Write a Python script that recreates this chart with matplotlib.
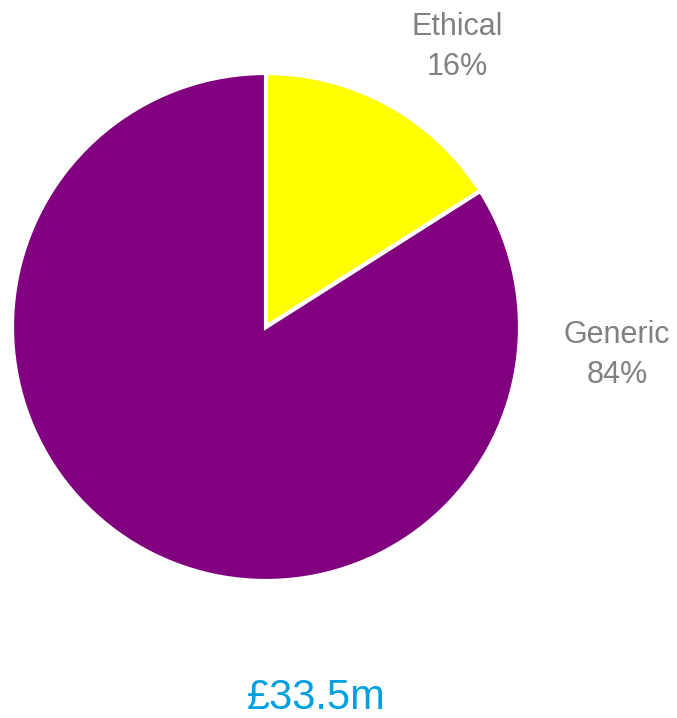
import matplotlib.pyplot as plt

categories = ['Ethical', 'Generic']
shares = [16, 84]
colors = ['#FFFF00', '#800080']
total_label = '£33.5m'

plt.rcParams['font.family'] = ['Liberation Sans', 'DejaVu Sans']

fig = plt.figure(figsize=(6.77, 7.18), dpi=100)
ax = fig.add_axes([0, 0, 1, 1])
ax.set_xlim(0, 677)
ax.set_ylim(0, 718)
ax.set_aspect('equal')
ax.axis('off')

ax.pie(shares, colors=colors, startangle=90, counterclock=False,
       center=(266, 391), radius=254,
       wedgeprops=dict(edgecolor='white', linewidth=3))
ax.set_xlim(0, 677)
ax.set_ylim(0, 718)

# category labels sit outside the pie
label_pos = {'Ethical': (457, 671), 'Generic': (617, 363)}
for name, pct in zip(categories, shares):
    x, y = label_pos[name]
    ax.text(x, y, f'{name}\n{pct}%', ha='center', va='center',
            fontsize=22, color='#808080', linespacing=1.4)

ax.text(316, 20, total_label, ha='center', va='center',
        fontsize=30, color='#00A0E3')

fig.savefig('out.png', dpi=100)
